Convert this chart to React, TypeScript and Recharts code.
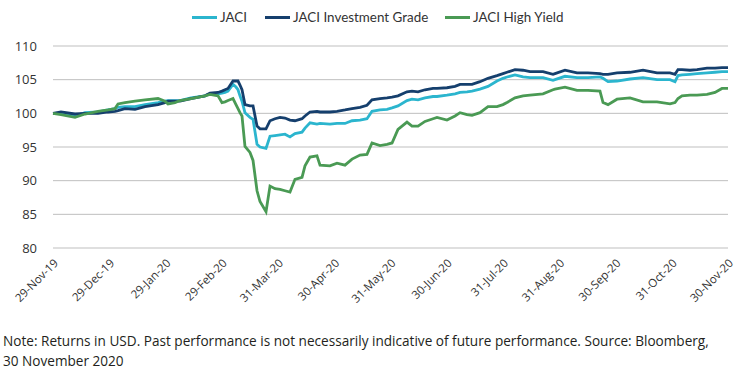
import React from "react";
import { LineChart, Line, XAxis, YAxis, CartesianGrid } from "recharts";

// months since 29-Nov-19 (0 = 29-Nov-19, 12 = 30-Nov-20)
const months = [
  0, 0.142, 0.391, 0.569, 0.8, 0.978, 1.102, 1.156, 1.28, 1.458, 1.636, 1.867, 1.991, 2.044, 2.169,
  2.258, 2.453, 2.702, 2.791, 2.933, 3.004, 3.058, 3.111, 3.2, 3.253, 3.289, 3.324, 3.36, 3.413,
  3.502, 3.556, 3.627, 3.68, 3.787, 3.858, 3.947, 4.036, 4.124, 4.213, 4.302, 4.427, 4.48, 4.569,
  4.693, 4.747, 4.924, 5.049, 5.191, 5.316, 5.458, 5.582, 5.671, 5.813, 5.938, 6.027, 6.133, 6.293,
  6.382, 6.489, 6.613, 6.756, 6.827, 7.004, 7.147, 7.236, 7.36, 7.449, 7.591, 7.733, 7.893, 8.0,
  8.071, 8.213, 8.356, 8.48, 8.711, 8.889, 8.924, 9.102, 9.316, 9.511, 9.724, 9.778, 9.867, 10.027,
  10.258, 10.489, 10.738, 10.969, 11.058, 11.111, 11.182, 11.324, 11.449, 11.627, 11.769, 11.893, 12,
];

const jaci = [
  100, 100.0, 99.6, 100.1, 100.2, 100.5, 100.7, 100.9, 101.0, 101.0, 101.3, 101.6, 101.8, 101.9, 101.9,
  101.9, 102.3, 102.6, 102.9, 102.9, 103.0, 103.1, 103.3, 104.3, 103.9, 103.5, 102.6, 101.8, 100.1,
  99.4, 99.1, 95.4, 95.0, 94.8, 96.6, 96.7, 96.8, 96.9, 96.5, 97.0, 97.2, 97.8, 98.6,
  98.4, 98.5, 98.4, 98.5, 98.5, 98.9, 99.0, 99.2, 100.3, 100.5, 100.6, 100.8, 101.1, 101.9,
  102.1, 102.0, 102.3, 102.5, 102.5, 102.7, 102.9, 103.1, 103.2, 103.3, 103.6, 104.0, 104.8, 105.2,
  105.4, 105.7, 105.4, 105.3, 105.3, 104.9, 105.0, 105.5, 105.3, 105.3, 105.4, 105.2, 104.7, 104.8,
  105.1, 105.3, 105.0, 105.0, 104.7, 105.6, 105.7, 105.8, 105.9, 106.0, 106.1, 106.2, 106.2,
];

const investmentGrade = [
  100, 100.2, 99.9, 100.0, 100.0, 100.2, 100.3, 100.4, 100.7, 100.6, 101.0, 101.3, 101.6, 101.8, 101.8,
  101.8, 102.2, 102.6, 103.0, 103.1, 103.3, 103.5, 103.7, 104.8, 104.8, 104.8, 104.2, 103.5, 101.3,
  101.1, 101.1, 98.1, 97.7, 97.7, 98.9, 99.2, 99.4, 99.3, 99.0, 98.9, 99.2, 99.6, 100.2,
  100.3, 100.2, 100.2, 100.3, 100.5, 100.7, 100.9, 101.2, 102.0, 102.2, 102.3, 102.4, 102.6, 103.2,
  103.3, 103.2, 103.5, 103.7, 103.7, 103.8, 104.0, 104.3, 104.3, 104.3, 104.7, 105.2, 105.6, 105.9,
  106.1, 106.5, 106.4, 106.2, 106.2, 105.8, 105.9, 106.4, 106.0, 106.0, 105.9, 105.8, 105.8, 106.0,
  106.1, 106.4, 106.0, 106.0, 105.8, 106.5, 106.5, 106.4, 106.5, 106.7, 106.7, 106.8, 106.8,
];

const highYield = [
  100, 99.8, 99.4, 99.9, 100.3, 100.5, 100.7, 101.4, 101.6, 101.8, 102.0, 102.2, 101.8, 101.4, 101.6,
  101.9, 102.2, 102.6, 102.8, 102.6, 101.6, 101.7, 101.9, 102.2, 101.3, 100.7, 100.1, 99.6, 95.1,
  94.2, 93.0, 88.5, 86.9, 85.4, 89.2, 88.8, 88.7, 88.5, 88.3, 90.2, 90.5, 92.2, 93.5,
  93.7, 92.3, 92.2, 92.6, 92.3, 93.2, 93.8, 93.9, 95.6, 95.2, 95.4, 95.6, 97.6, 98.7,
  98.1, 98.1, 98.8, 99.2, 99.4, 99.0, 99.6, 100.1, 99.8, 99.7, 100.1, 101.0, 101.0, 101.3,
  101.6, 102.3, 102.6, 102.7, 102.9, 103.5, 103.6, 103.9, 103.4, 103.4, 103.3, 101.6, 101.3, 102.1,
  102.3, 101.7, 101.7, 101.4, 101.6, 102.2, 102.6, 102.7, 102.7, 102.8, 103.1, 103.7, 103.7,
];

const tickLabels = [
  "29-Nov-19", "29-Dec-19", "29-Jan-20", "29-Feb-20", "31-Mar-20", "30-Apr-20", "31-May-20",
  "30-Jun-20", "31-Jul-20", "31-Aug-20", "30-Sep-20", "31-Oct-20", "30-Nov-20",
];
const yTicks = [80, 85, 90, 95, 100, 105, 110];

const series = [
  { key: "jaci", name: "JACI", color: "#2BB5CE", left: 192 },
  { key: "ig", name: "JACI Investment Grade", color: "#153F6D", left: 265 },
  { key: "hy", name: "JACI High Yield", color: "#4A9A54", left: 445 },
];

const data = months.map((m, i) => ({
  m,
  jaci: jaci[i],
  ig: investmentGrade[i],
  hy: highYield[i],
}));

const font = "'Open Sans', sans-serif";

const DateTick = (props: any) => {
  const { x, y, payload } = props;
  return (
    <g transform={`translate(${x + 3},${y + 5})`}>
      <text
        textAnchor="end"
        transform="rotate(-45)"
        dy="0.35em"
        fontSize={11.5}
        fontFamily={font}
        fill="#333"
      >
        {tickLabels[payload.value]}
      </text>
    </g>
  );
};

export default function App() {
  return (
    <div
      style={{
        position: "absolute",
        left: 0,
        top: 0,
        width: 739,
        height: 376,
        background: "#fff",
        fontFamily: font,
      }}
    >
      {series.map((s) => (
        <div
          key={s.key}
          style={{
            position: "absolute",
            top: 9,
            left: s.left,
            display: "flex",
            alignItems: "center",
            fontFamily: "Lato, sans-serif",
            fontSize: 13.4,
            color: "#333",
            whiteSpace: "nowrap",
          }}
        >
          <span style={{ display: "inline-block", width: 25, height: 3, background: s.color, marginRight: 3 }} />
          <span>{s.name}</span>
        </div>
      ))}

      <LineChart width={739} height={310} data={data} margin={{ top: 46, right: 11, left: 0, bottom: 0 }}>
        <CartesianGrid vertical={false} stroke="#BFBFBF" strokeDasharray="" />
        <XAxis
          dataKey="m"
          type="number"
          domain={[0, 12]}
          ticks={[0, 1, 2, 3, 4, 5, 6, 7, 8, 9, 10, 11, 12]}
          interval={0}
          axisLine={false}
          tickLine={false}
          height={62}
          tick={<DateTick />}
        />
        <YAxis
          domain={[80, 110]}
          ticks={yTicks}
          width={53}
          axisLine={false}
          tickLine={false}
          tickMargin={10}
          tick={{ fontSize: 13, fill: "#333", fontFamily: font }}
        />
        {series.map((s) => (
          <Line
            key={s.key}
            dataKey={s.key}
            name={s.name}
            stroke={s.color}
            strokeWidth={2.8}
            dot={false}
            type="linear"
            isAnimationActive={false}
          />
        ))}
      </LineChart>

      <div
        style={{
          position: "absolute",
          left: 3,
          top: 331,
          width: 736,
          fontSize: 13.6,
          lineHeight: "20px",
          color: "#231F20",
          whiteSpace: "nowrap",
        }}
      >
        Note: Returns in USD. Past performance is not necessarily indicative of future performance. Source: Bloomberg,
        <br />
        30 November 2020
      </div>
    </div>
  );
}
